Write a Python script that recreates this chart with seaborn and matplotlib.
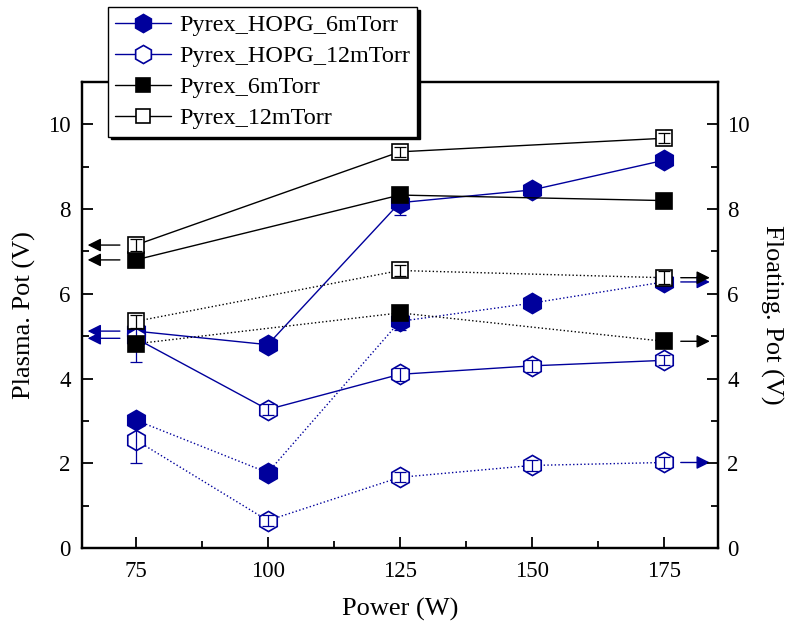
import seaborn as sns
import matplotlib.pyplot as plt
import numpy as np

# power values (W)
power_hopg = [75, 100, 125, 150, 175]
power_pyrex = [75, 125, 175]

# plasma potential (V), left axis
hopg6_plasma = [5.12, 4.80, 8.15, 8.45, 9.15]
hopg12_plasma = [4.95, 3.27, 4.10, 4.30, 4.43]
pyrex6_plasma = [6.80, 8.33, 8.20]
pyrex12_plasma = [7.15, 9.35, 9.67]

# floating potential (V), right axis
hopg6_float = [3.02, 1.78, 5.35, 5.78, 6.28]
hopg12_float = [2.55, 0.65, 1.67, 1.95, 2.02]
pyrex6_float = [4.82, 5.55, 4.88]
pyrex12_float = [5.35, 6.55, 6.38]

# error bars
hopg6_plasma_err = [0.10, 0.10, 0.30, 0.10, 0.10]
hopg12_plasma_err = [0.55, 0.12, 0.15, 0.15, 0.12]
pyrex6_plasma_err = [0.10, 0.10, 0.10]
pyrex12_plasma_err = [0.15, 0.12, 0.12]
hopg6_float_err = [0.10, 0.10, 0.20, 0.10, 0.10]
hopg12_float_err = [0.55, 0.12, 0.12, 0.12, 0.12]
pyrex6_float_err = [0.10, 0.10, 0.10]
pyrex12_float_err = [0.15, 0.12, 0.15]

blue = "#00009C"

sns.set_theme(style="ticks")
plt.rcParams['font.family'] = ['Liberation Serif', 'DejaVu Serif']
for k in ['text.color', 'axes.labelcolor', 'xtick.color', 'ytick.color', 'axes.edgecolor']:
    plt.rcParams[k] = 'black'

fig = plt.figure(figsize=(7.87, 6.3), dpi=100)
ax = fig.add_axes([0.104, 0.130, 0.808, 0.740])
ax2 = ax.twinx()

series = [
    ("Pyrex_HOPG_6mTorr", power_hopg, hopg6_plasma, hopg6_plasma_err, hopg6_float, hopg6_float_err, 'h', blue, blue, 14.5),
    ("Pyrex_HOPG_12mTorr", power_hopg, hopg12_plasma, hopg12_plasma_err, hopg12_float, hopg12_float_err, 'h', blue, 'white', 14.5),
    ("Pyrex_6mTorr", power_pyrex, pyrex6_plasma, pyrex6_plasma_err, pyrex6_float, pyrex6_float_err, 's', 'black', 'black', 11.5),
    ("Pyrex_12mTorr", power_pyrex, pyrex12_plasma, pyrex12_plasma_err, pyrex12_float, pyrex12_float_err, 's', 'black', 'white', 11.5),
]

handles = []
z = 3
for name, xs, yp, ep, yf, ef, mk, col, face, ms in series:
    # plasma potential: solid line
    sns.lineplot(x=xs, y=yp, ax=ax, color=col, lw=1, marker=mk, markersize=ms,
                 markerfacecolor=face, markeredgecolor=col, markeredgewidth=1.2,
                 zorder=z, legend=False)
    # floating potential: dotted line
    sns.lineplot(x=xs, y=yf, ax=ax, color=col, lw=1, ls=':', marker=mk, markersize=ms,
                 markerfacecolor=face, markeredgecolor=col, markeredgewidth=1.2,
                 zorder=z, legend=False)
    ax.errorbar(xs, yp, yerr=ep, fmt='none', ecolor=col, elinewidth=0.9, capsize=4, capthick=0.9, zorder=z + 0.5)
    ax.errorbar(xs, yf, yerr=ef, fmt='none', ecolor=col, elinewidth=0.9, capsize=4, capthick=0.9, zorder=z + 0.5)
    handles.append(plt.Line2D([], [], color=col, lw=1, marker=mk, markersize=ms * 0.9,
                              markerfacecolor=face, markeredgecolor=col, markeredgewidth=1.2))
    # arrows pointing to the axis each curve belongs to
    ax.annotate("", xy=(65.9, yp[0]), xytext=(72, yp[0]),
                arrowprops=dict(arrowstyle='-|>', color=col, lw=1, mutation_scale=20, shrinkA=0, shrinkB=0))
    ax.annotate("", xy=(183.7, yf[-1]), xytext=(178.2, yf[-1]),
                arrowprops=dict(arrowstyle='-|>', color=col, lw=1, mutation_scale=20, shrinkA=0, shrinkB=0))
    z += 1

for a in (ax, ax2):
    a.set_xlim(64.8, 185.2)
    a.set_ylim(0, 11)
    a.set_yticks([0, 2, 4, 6, 8, 10])
    a.set_yticks(np.arange(1, 11, 2), minor=True)
    a.tick_params(axis='both', which='major', direction='in', length=8, width=1.3, labelsize=16.5)
    a.tick_params(axis='both', which='minor', direction='in', length=5, width=1.3)
    for s in a.spines.values():
        s.set_linewidth(1.6)
        s.set_color('black')

ax.set_xticks([75, 100, 125, 150, 175])
ax.set_xticks([87.5, 112.5, 137.5, 162.5], minor=True)
ax.tick_params(axis='y', which='both', right=False, pad=8)
ax.tick_params(axis='x', which='both', top=False, pad=9)
ax2.tick_params(axis='y', which='both', pad=7)
ax.set_xlabel("Power (W)", fontsize=19, labelpad=12)
ax.set_ylabel("Plasma. Pot (V)", fontsize=19, labelpad=9)
ax2.set_ylabel("Floating. Pot (V)", fontsize=19, rotation=270, labelpad=24)

leg = fig.legend(handles, [s[0] for s in series], loc='upper left',
                 bbox_to_anchor=(0.1372, 0.9889), fontsize=17.4, frameon=True, fancybox=False,
                 shadow={'color': 'black', 'alpha': 1}, edgecolor='black',
                 handlelength=2.3, handletextpad=0.35, borderpad=0.3, labelspacing=0.38,
                 borderaxespad=0)
leg.get_frame().set_linewidth(1.0)

fig.savefig("out.png", dpi=100)
